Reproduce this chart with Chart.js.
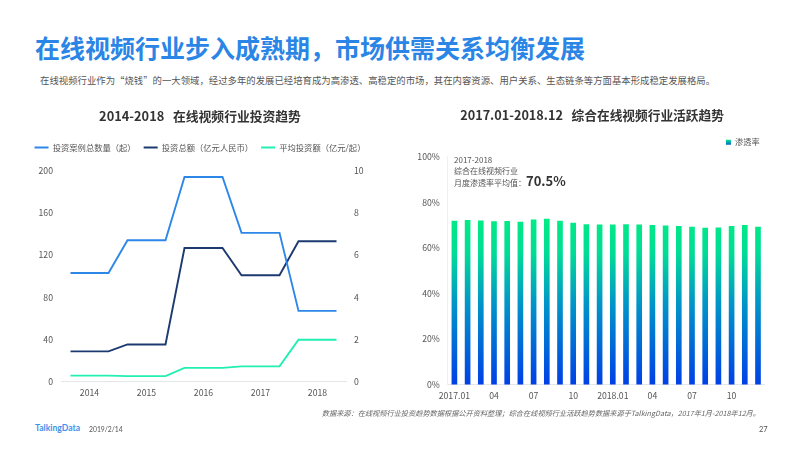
<!DOCTYPE html>
<html><head><meta charset="utf-8">
<script src="https://cdn.jsdelivr.net/npm/chart.js@4"></script>
<style>
html,body{margin:0;padding:0;background:#fff;width:800px;height:449px;overflow:hidden;font-family:"Noto Sans CJK SC","Noto Sans",sans-serif}
canvas{position:absolute}
.t{position:absolute;white-space:nowrap;line-height:1}
</style></head><body>
<div class="t" style="left:35px;top:35px;font-size:25px;font-weight:700;color:#2a85e6">在线视频行业步入成熟期，市场供需关系均衡发展</div>
<div class="t" style="left:40px;top:76px;font-size:9.4px;color:#555">在线视频行业作为“烧钱”的一大领域，经过多年的发展已经培育成为高渗透、高稳定的市场，其在内容资源、用户关系、生态链条等方面基本形成稳定发展格局。</div>
<div style="position:absolute;left:0;top:100px;width:400px;height:310px"><canvas id="c1"></canvas></div>
<div style="position:absolute;left:400px;top:100px;width:384px;height:310px"><canvas id="c2"></canvas></div>
<div class="t" style="left:454px;top:155px;font-size:8px;color:#555;line-height:10.5px;background:#fff">2017-2018<br>综合在线视频行业<br>月度渗透率平均值：<span style="font-size:13px;font-weight:700;color:#333">70.5%</span></div>
<div class="t" style="right:40px;top:410px;font-size:7.2px;font-style:italic;color:#666">数据来源：在线视频行业投资趋势数据根据公开资料整理；综合在线视频行业活跃趋势数据来源于TalkingData，2017年1月-2018年12月。</div>
<div class="t" style="left:35px;top:424px;font-size:8.6px;font-weight:700;color:#3d92ee;font-family:Lato,sans-serif">TalkingData</div>
<div class="t" style="left:89px;top:426px;font-size:6.8px;color:#555;font-family:Lato,sans-serif">2019/2/14</div>
<div class="t" style="left:759px;top:426px;font-size:7.5px;color:#555;font-family:Lato,sans-serif">27</div>
<script>
const FONT='"Noto Sans CJK SC","Noto Sans",sans-serif';
const yearLabels=['','2014','','','2015','','','2016','','','2017','','','2018',''];
const caseCount=[103,103,103,134,134,134,194,194,194,141,141,141,67,67,67];
const totalInvest=[28.6,28.6,28.6,35.2,35.2,35.2,126.6,126.6,126.6,100.8,100.8,100.8,133,133,133];
const avgInvest=[0.28,0.28,0.28,0.26,0.26,0.26,0.65,0.65,0.65,0.72,0.72,0.72,1.98,1.98,1.98];
const leftTicksMax=200, rightTicksMax=10;
const months=['2017.01','02','03','04','05','06','07','08','09','10','11','12','2018.01','02','03','04','05','06','07','08','09','10','11','12'];
const penetration=[71.8,72.1,71.9,71.6,71.7,71.4,72.4,72.7,71.8,70.9,70.3,70.2,70.2,70.3,70.2,70.0,69.7,69.5,69.2,68.7,68.9,69.5,69.9,69.2];

const tickFont={family:FONT,size:8.7};
const legendGap=n=>({id:'legendGap',beforeInit(ch){const f=ch.legend.fit;ch.legend.fit=function(){f.call(this);this.height+=n;}}});
new Chart(document.getElementById('c1'),{
 type:'line',
 plugins:[legendGap(9)],
 data:{labels:yearLabels,datasets:[
  {label:'投资案例总数量（起）',data:caseCount,borderColor:'#2d87e8',backgroundColor:'#2d87e8',yAxisID:'y'},
  {label:'投资总额（亿元人民币）',data:totalInvest,borderColor:'#1c3a70',backgroundColor:'#1c3a70',yAxisID:'y'},
  {label:'平均投资额（亿元/起）',data:avgInvest,borderColor:'#22efb2',backgroundColor:'#22efb2',yAxisID:'y1'}
 ]},
 options:{responsive:true,maintainAspectRatio:false,animation:false,
  elements:{point:{radius:0},line:{borderWidth:1.9,tension:0}},
  layout:{padding:{bottom:6}},
  plugins:{
   title:{display:true,text:'2014-2018\u00a0\u00a0\u00a0在线视频行业投资趋势',color:'#333',font:{family:FONT,size:12.8,weight:'bold'},padding:{top:8,bottom:12}},
   legend:{display:true,position:'top',labels:{boxWidth:14,boxHeight:0,color:'#555',font:{family:FONT,size:8.3},padding:8}},
   tooltip:{enabled:false}
  },
  scales:{
   x:{offset:true,grid:{display:false,drawTicks:false},border:{color:'#e6e6e6',width:1},
      ticks:{autoSkip:false,maxRotation:0,color:'#555',font:tickFont,padding:6}},
   y:{min:0,max:leftTicksMax,position:'left',grid:{display:false,drawTicks:false},border:{display:false},
      afterFit(s){s.width=61},
      ticks:{stepSize:40,color:'#555',font:tickFont,padding:8}},
   y1:{min:0,max:rightTicksMax,position:'right',grid:{display:false,drawTicks:false},border:{display:false},
      afterFit(s){s.width=54},
      ticks:{stepSize:2,color:'#555',font:tickFont,padding:8}}
  }
 }
});

function barGrad(c){
 const a=c.chart.chartArea; if(!a) return '#00e88a';
 const y=c.chart.scales.y;
 const g=c.chart.ctx.createLinearGradient(0,y.getPixelForValue(0),0,y.getPixelForValue(72));
 g.addColorStop(0,'#0040e6');g.addColorStop(.5,'#0096c8');g.addColorStop(.8,'#00dc96');g.addColorStop(1,'#00ea86');
 return g;
}
new Chart(document.getElementById('c2'),{
 type:'bar',
 plugins:[legendGap(0.5)],
 data:{labels:months,datasets:[{label:'渗透率',data:penetration,backgroundColor:barGrad,barThickness:5,borderWidth:0}]},
 options:{responsive:true,maintainAspectRatio:false,animation:false,
  layout:{padding:{bottom:3}},
  plugins:{
   title:{display:true,text:'2017.01-2018.12\u00a0\u00a0\u00a0综合在线视频行业活跃趋势',color:'#333',font:{family:FONT,size:12.7,weight:'bold'},padding:{top:8,bottom:10}},
   legend:{display:true,position:'top',align:'end',fullSize:false,
     labels:{boxWidth:5,boxHeight:5,color:'#555',font:{family:FONT,size:8.2},padding:5,
      generateLabels(ch){
       const g=ch.ctx.createLinearGradient(0,40,0,46);
       g.addColorStop(0,'#00e08c');g.addColorStop(1,'#0040e0');
       return [{text:'渗透率',fillStyle:g,strokeStyle:'rgba(0,0,0,0)',lineWidth:0,datasetIndex:0,fontColor:'#555'}];
      }}},
   tooltip:{enabled:false}
  },
  scales:{
   x:{grid:{display:false,drawTicks:false},border:{color:'#e6e6e6',width:1},
      ticks:{autoSkip:false,maxRotation:0,color:'#555',font:tickFont,padding:6,
        callback(v,i){return i%3===0?months[i]:''}}},
   y:{min:0,max:100,position:'left',grid:{display:false,drawTicks:false},border:{color:'#f0f0f0',width:1},
      afterFit(s){s.width=47.8},
      ticks:{stepSize:20,color:'#555',font:tickFont,padding:8,callback(v){return v+'%'}}},
   pad:{position:'right',grid:{display:false,drawTicks:false},border:{display:false},ticks:{display:false},afterFit(s){s.width=19.4}}
  }
 }
});
</script>
</body></html>
